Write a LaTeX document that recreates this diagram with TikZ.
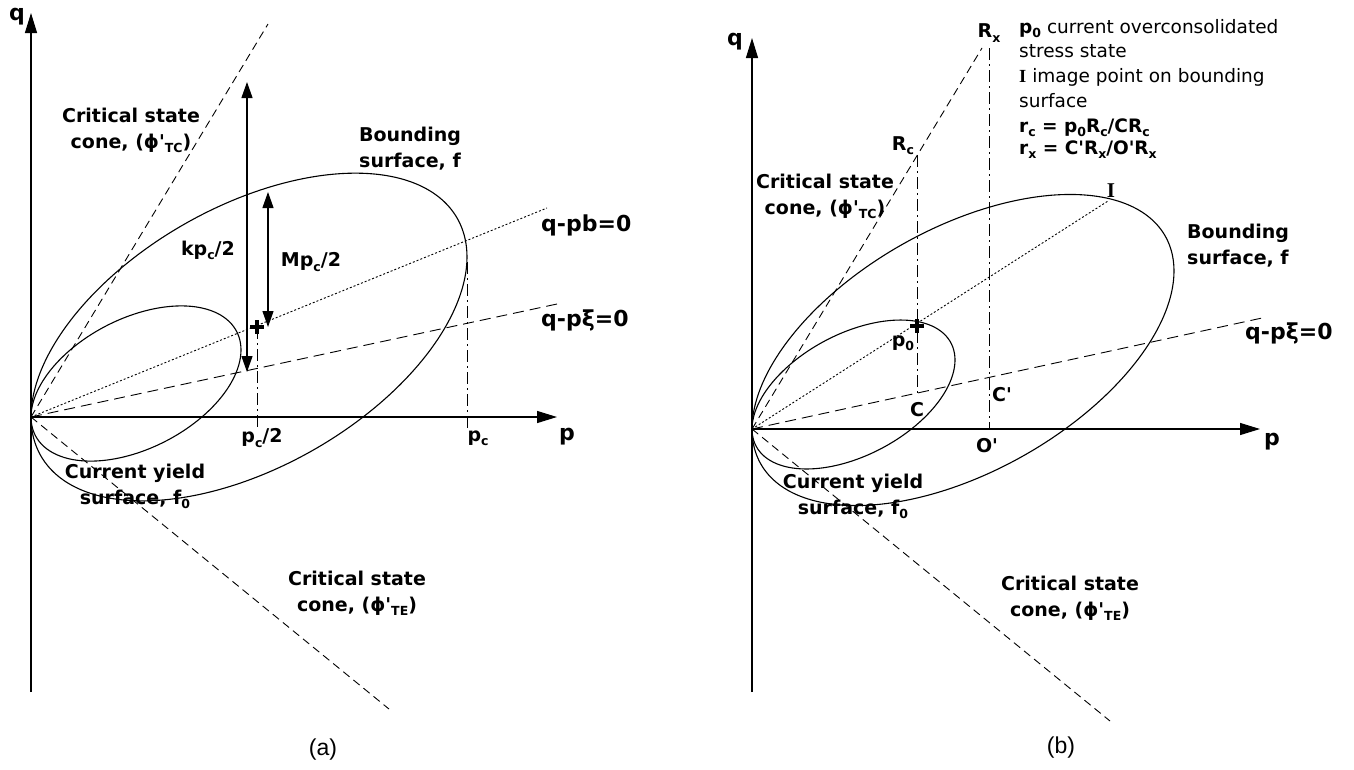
\documentclass[tikz,border=0pt]{standalone}
\usepackage{fontspec}
\setmainfont{DejaVu Sans}[Ligatures=TeXOff]
\newfontfamily\serifb{Liberation Serif}[Ligatures=TeXOff]
\newfontfamily\arialf{Liberation Sans}
\usetikzlibrary{arrows.meta}
\newcommand\lsub[1]{\raisebox{-0.4ex}{\fontsize{12.5}{12.5}\selectfont #1}}
\begin{document}
\begin{tikzpicture}[x=1pt,y=-1pt,
  lbl/.style={font=\fontsize{19}{26}\selectfont\bfseries, align=center, inner sep=0pt},
  lbll/.style={font=\fontsize{19}{26}\selectfont\bfseries, align=left, inner sep=0pt, anchor=west},
  big/.style={font=\fontsize{22}{24}\selectfont\bfseries, inner sep=0pt},
  leg/.style={font=\fontsize{18.5}{20}\selectfont, anchor=base west, inner sep=0pt},
  captxt/.style={font=\arialf\fontsize{23}{25}\selectfont, inner sep=0pt},
  axisarr/.style={line width=1.2pt, -{Triangle[length=20pt,width=12pt]}},
  dimarr/.style={line width=1.2pt, {Triangle[length=16pt,width=11pt]}-{Triangle[length=16pt,width=11pt]}},
  cone/.style={line width=0.9pt, dash pattern=on 8pt off 5pt},
  xiline/.style={line width=0.9pt, dash pattern=on 11pt off 6pt},
  dotline/.style={line width=0.9pt, dash pattern=on 2pt off 2pt},
  dashdot/.style={line width=0.9pt, dash pattern=on 12pt off 4pt on 2pt off 4pt},
  curve/.style={line width=1.1pt},
  plusmk/.style={line width=3.2pt}
]
\useasboundingbox (0,0) rectangle (1354,769);

% ================= LEFT PANEL =================
\coordinate (O1) at (31,417);
\coordinate (Q1) at (31,13);
\coordinate (Qb1) at (31,692);
\coordinate (P1) at (557,417);
\coordinate (TC1) at (268,24);
\coordinate (TE1) at (389,709);
\coordinate (B1) at (547,208);
\coordinate (X1) at (557,304);
\coordinate (K1t) at (247,82);
\coordinate (K1b) at (247,372);
\coordinate (M1t) at (268,192);
\coordinate (M1b) at (268,327);
\coordinate (PL1) at (257,327);
\coordinate (PL1b) at (257,428);
\coordinate (PC1t) at (467,262);
\coordinate (PC1b) at (467,430);

\draw[cone] (O1) -- (TC1);
\draw[cone] (O1) -- (TE1);
\draw[dotline] (O1) -- (B1);
\draw[xiline] (O1) -- (X1);
\draw[curve] plot[domain=0:360,samples=150,smooth,variable=\t]
  ({249+218*cos(\t)},{337-80*cos(\t)-143*sin(\t)});
\draw[curve] plot[domain=0:360,samples=120,smooth,variable=\t]
  ({136+105*cos(\t)},{383.5-33.5*cos(\t)-70*sin(\t)});
\draw[dashdot] (PL1) -- (PL1b);
\draw[dashdot] (PC1t) -- (PC1b);
\draw[axisarr] (Qb1) -- (Q1);
\draw[axisarr] (O1) -- (P1);
\draw[dimarr] (K1b) -- (K1t);
\draw[dimarr] (M1b) -- (M1t);
\draw[plusmk] (PL1) +(-7,0) -- +(7,0) (PL1) +(0,-7) -- +(0,7);

\node[big] (lq1) at (17,17) {q};
\node[big] (lp1) at (567,437) {p};
\node[lbl] (ltc1) at (131,130) {Critical state\\cone, (ϕ'\lsub{TC})};
\node[lbl] (lbs1) at (410,149) {Bounding\\surface, f};
\node[big, anchor=base west] (lqb1) at (541,231) {q-pb=0};
\node[big, anchor=base west] (lqx1) at (541,326) {q-pξ=0};
\node[lbl] (lk1) at (208,250) {kp\lsub{c}/2};
\node[lbl] (lm1) at (311,262) {Mp\lsub{c}/2};
\node[lbl] (lpc21) at (262,438) {p\lsub{c}/2};
\node[lbl] (lpc1) at (478,438) {p\lsub{c}};
\node[lbl] (lcy1) at (135,486) {Current yield\\surface, f\lsub{0}};
\node[lbl] (lte1) at (357,593) {Critical state\\cone, (ϕ'\lsub{TE})};
\node[captxt] (la) at (323,750) {(a)};

% ================= RIGHT PANEL =================
\coordinate (O2) at (752,429);
\coordinate (Q2) at (752,38);
\coordinate (Qb2) at (752,692);
\coordinate (P2) at (1260,429);
\coordinate (TC2) at (982,48);
\coordinate (TE2) at (1110,721);
\coordinate (X2) at (1262,318);
\coordinate (I2) at (1108,201);
\coordinate (Rc) at (917,155);
\coordinate (Cc) at (917,393);
\coordinate (Rx) at (989,48);
\coordinate (Op) at (989,429);
\coordinate (PL2) at (917,326);

\draw[cone] (O2) -- (TC2);
\draw[cone] (O2) -- (TE2);
\draw[dotline] (O2) -- (I2);
\draw[xiline] (O2) -- (X2);
\draw[curve] plot[domain=0:360,samples=150,smooth,variable=\t]
  ({963+211*cos(\t)},{350-79*cos(\t)-134*sin(\t)});
\draw[curve] plot[domain=0:360,samples=120,smooth,variable=\t]
  ({853.5+101.5*cos(\t)},{394.5-34.5*cos(\t)-66*sin(\t)});
\draw[dashdot] (Rc) -- (Cc);
\draw[dashdot] (Rx) -- (Op);
\draw[axisarr] (Qb2) -- (Q2);
\draw[axisarr] (O2) -- (P2);
\draw[plusmk] (PL2) +(-7,0) -- +(7,0) (PL2) +(0,-7) -- +(0,7);

\node[big] (lq2) at (735,42) {q};
\node[big] (lp2) at (1272,442) {p};
\node[lbl] (lRx) at (989,33) {R\lsub{x}};
\node[lbl] (lRc) at (903,146) {R\lsub{c}};
\node[font=\serifb\fontsize{21}{22}\selectfont\bfseries, inner sep=0pt] (lI) at (1111,191) {I};
\node[lbl] (lp0) at (903,343) {p\lsub{0}};
\node[lbl] (lC) at (917,410) {C};
\node[lbl] (lCp) at (1002,395) {C'};
\node[lbl] (lOp) at (987,446) {O'};
\node[lbl] (ltc2) at (825,196) {Critical state\\cone, (ϕ'\lsub{TC})};
\node[lbll] (lbs2) at (1187,246) {Bounding\\surface, f};
\node[big, anchor=base west] (lqx2) at (1245,339) {q-pξ=0};
\node[lbl] (lcy2) at (853,496) {Current yield\\surface, f\lsub{0}};
\node[lbl] (lte2) at (1070,598) {Critical state\\cone, (ϕ'\lsub{TE})};
\node[captxt] (lb) at (1061,748) {(b)};

\node[leg] (g1) at (1019,33) {\textbf{p\lsub{0}} current overconsolidated};
\node[leg] (g2) at (1019,57) {stress state};
\node[leg] (g3) at (1019,82) {{\serifb\bfseries I} image point on bounding};
\node[leg] (g4) at (1019,107) {surface};
\node[leg] (g5) at (1019,132) {\bfseries r\lsub{c} = p\lsub{0}R\lsub{c}/CR\lsub{c}};
\node[leg] (g6) at (1019,154) {\bfseries r\lsub{x} = C'R\lsub{x}/O'R\lsub{x}};
\end{tikzpicture}
\end{document}
